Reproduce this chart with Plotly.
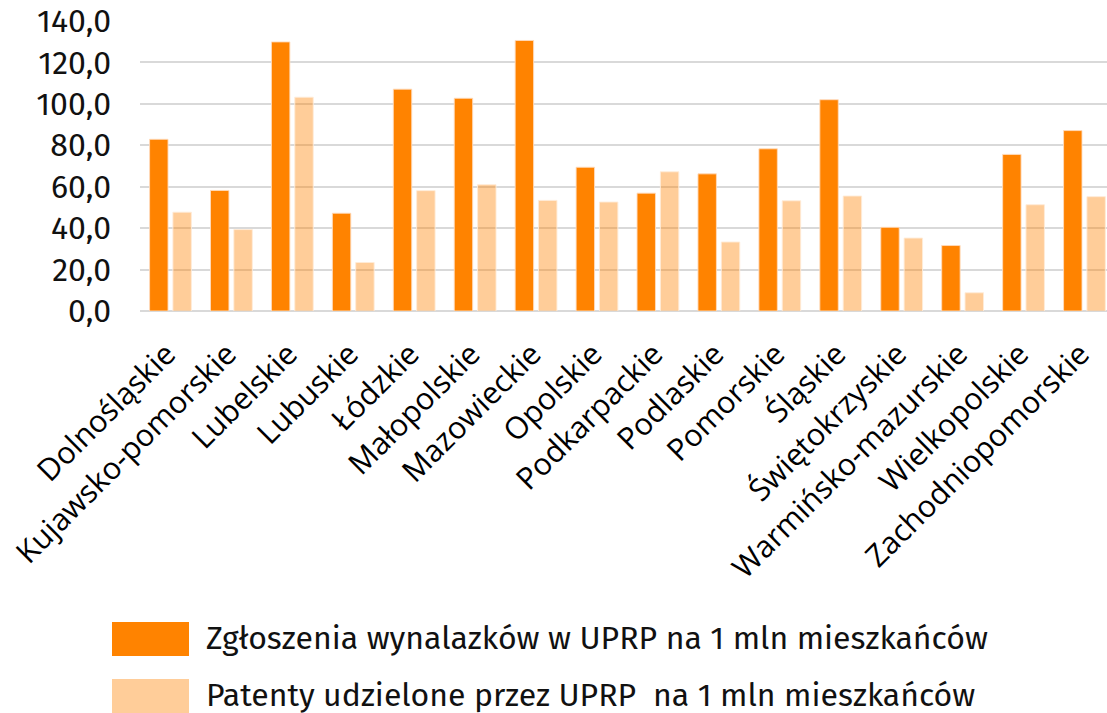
import plotly.graph_objects as go

categories = ["Dolnośląskie", "Kujawsko-pomorskie", "Lubelskie", "Lubuskie", "Łódzkie",
              "Małopolskie", "Mazowieckie", "Opolskie", "Podkarpackie", "Podlaskie",
              "Pomorskie", "Śląskie", "Świętokrzyskie", "Warmińsko-mazurskie",
              "Wielkopolskie", "Zachodniopomorskie"]
zgloszenia = [82.9, 58.2, 129.9, 47.2, 107.1, 102.7, 130.6, 69.4, 56.9, 66.2,
              78.3, 102.0, 40.4, 31.6, 75.6, 87.1]
patenty = [47.7, 39.3, 103.2, 23.4, 58.1, 61.0, 53.4, 52.6, 67.2, 33.3,
           53.2, 55.5, 35.2, 8.8, 51.3, 55.2]
series_names = ["Zgłoszenia wynalazków w UPRP na 1 mln mieszkańców",
                "Patenty udzielone przez UPRP  na 1 mln mieszkańców"]
y_ticks = [0, 20, 40, 60, 80, 100, 120, 140]
y_tick_labels = ["0,0", "20,0", "40,0", "60,0", "80,0", "100,0", "120,0", "140,0"]

ORANGE = "#FF8300"
LIGHT = "rgba(255,131,0,0.4)"

W, H = 1107, 713
L, T = 140, 21
B = 402
plot_h = H - T - B

fig = go.Figure()
fig.add_trace(go.Bar(x=categories, y=zgloszenia, name=series_names[0],
                     marker=dict(color=ORANGE, line=dict(color="rgba(255,220,190,0.9)", width=1))))
fig.add_trace(go.Bar(x=categories, y=patenty, name=series_names[1],
                     marker=dict(color=LIGHT, line=dict(color="rgba(255,235,215,0.9)", width=1))))

def py(ypx):
    return (H - B - ypx) / plot_h

def px(xpx):
    return (xpx - L) / (W - L)

# custom legend
legend_rows = [(622, 656, ORANGE), (679, 713, LIGHT)]
for (y0, y1, col), name in zip(legend_rows, series_names):
    fig.add_shape(type="rect", xref="paper", yref="paper",
                  x0=px(112), x1=px(189), y0=py(y1), y1=py(y0),
                  fillcolor=col, line=dict(width=0))
    fig.add_annotation(xref="paper", yref="paper", x=px(204), y=py((y0 + y1) / 2 - 1),
                       text=name, showarrow=False, xanchor="left", yanchor="middle",
                       font=dict(family="Fira Sans, Noto Sans, sans-serif", size=32, color="#111"))

fig.update_layout(
    width=W, height=H,
    margin=dict(l=L, r=0, t=T, b=B),
    paper_bgcolor="white", plot_bgcolor="white",
    barmode="group", bargap=0.234, bargroupgap=0.21,
    showlegend=False,
    xaxis=dict(range=[-0.5, 15.37], tickangle=-45, showgrid=False,
               tickfont=dict(family="Open Sans, sans-serif", size=30.5, color="#000"),
               ticklabelstandoff=18, ticklabelshift=-4,
               showline=False, ticks=""),
    yaxis=dict(range=[0, 140], tickvals=y_ticks, ticktext=y_tick_labels,
               showgrid=True, gridcolor="#D9D9D9", gridwidth=1.5,
               zeroline=True, zerolinecolor="#D9D9D9", zerolinewidth=1.5,
               ticklabelstandoff=28,
               tickfont=dict(family="Fira Sans, Noto Sans, sans-serif", size=32, color="#111")),
)

fig.write_html("out.html", config={"displayModeBar": False},
               post_script="document.body.style.margin='0';document.body.style.overflow='hidden';")
